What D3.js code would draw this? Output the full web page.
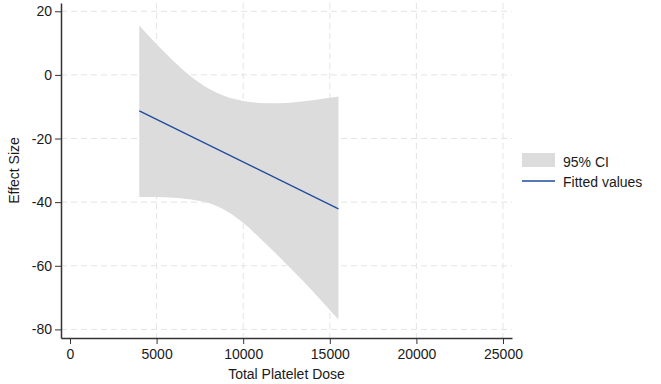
<!DOCTYPE html>
<html>
<head>
<meta charset="utf-8">
<script src="https://cdn.jsdelivr.net/npm/d3@7"></script>
<style>
  html, body { margin: 0; padding: 0; background: #fff; }
  svg { display: block; font-family: "Liberation Sans", Arial, Helvetica, sans-serif; }
</style>
</head>
<body>
<div id="chart"></div>
<script>
// --- Data ---
const doseX   = [4000, 5000, 6000, 7000, 8000, 9000, 10000, 11000, 12000, 13000, 14000, 15000, 15500];
const ciUpper = [15.5, 9.6, 4.2, -0.6, -4.3, -6.8, -8.2, -8.8, -8.9, -8.6, -8.0, -7.2, -6.8];
const ciLower = [-38.4, -38.4, -38.6, -39.2, -40.3, -42.7, -46.5, -51.5, -56.8, -62.3, -67.9, -73.9, -76.9];
const fitX = [4000, 15500];
const fitY = [-11.3, -42.1];
const xTicks = [0, 5000, 10000, 15000, 20000, 25000];
const yTicks = [20, 0, -20, -40, -60, -80];
const legendLabels = ["95% CI", "Fitted values"];

const width = 661, height = 384;
const lineColor = "#1d4a9e";
const bandColor = "#dcdcdc";
const gridColor = "#e4e4e4";
const axisColor = "#333";
const textColor = "#1a1a1a";

// --- Scales ---
const x = d3.scaleLinear().domain([-520, 25520]).range([61, 512]);
const y = d3.scaleLinear().domain([-82.7, 22.6]).range([338, 3]);

const svg = d3.select("#chart").append("svg")
  .attr("width", width)
  .attr("height", height);

// --- Gridlines (dashed) ---
svg.append("g")
  .selectAll("line")
  .data(yTicks)
  .join("line")
  .attr("x1", x.range()[0])
  .attr("x2", x.range()[1])
  .attr("y1", d => y(d))
  .attr("y2", d => y(d))
  .attr("stroke", gridColor)
  .attr("stroke-width", 1)
  .attr("stroke-dasharray", "6,4");

svg.append("g")
  .selectAll("line")
  .data(xTicks.filter(d => d !== 0))
  .join("line")
  .attr("x1", d => x(d))
  .attr("x2", d => x(d))
  .attr("y1", y.range()[1])
  .attr("y2", y.range()[0])
  .attr("stroke", gridColor)
  .attr("stroke-width", 1)
  .attr("stroke-dasharray", "6,4");

// --- Confidence band ---
const bandData = doseX.map((d, i) => ({ x: d, lo: ciLower[i], hi: ciUpper[i] }));
const area = d3.area()
  .x(d => x(d.x))
  .y0(d => y(d.lo))
  .y1(d => y(d.hi))
  .curve(d3.curveMonotoneX);

svg.append("path")
  .datum(bandData)
  .attr("d", area)
  .attr("fill", bandColor);

// --- Fitted line ---
const fitData = fitX.map((d, i) => ({ x: d, y: fitY[i] }));
svg.append("path")
  .datum(fitData)
  .attr("d", d3.line().x(d => x(d.x)).y(d => y(d.y)))
  .attr("fill", "none")
  .attr("stroke", lineColor)
  .attr("stroke-width", 1.3);

// --- Axes ---
const xAxis = svg.append("g")
  .attr("transform", `translate(0,${y.range()[0]})`)
  .call(d3.axisBottom(x).tickValues(xTicks).tickFormat(d3.format("d")).tickSize(6).tickSizeOuter(0).tickPadding(5));

const yAxis = svg.append("g")
  .attr("transform", `translate(${x.range()[0]},0)`)
  .call(d3.axisLeft(y).tickValues(yTicks).tickFormat(d => d < 0 ? "-" + Math.abs(d) : d).tickSize(6).tickSizeOuter(0).tickPadding(3));

[xAxis, yAxis].forEach(g => {
  g.select(".domain").attr("stroke", axisColor).attr("stroke-width", 1.5);
  g.selectAll(".tick line").attr("stroke", axisColor).attr("stroke-width", 1);
  g.selectAll(".tick text")
    .attr("font-size", 14)
    .attr("fill", textColor)
    .style("font-family", "'Liberation Sans', Arial, Helvetica, sans-serif");
});

// --- Axis titles ---
svg.append("text")
  .attr("x", (x.range()[0] + x.range()[1]) / 2)
  .attr("y", 379)
  .attr("text-anchor", "middle")
  .attr("font-size", 14)
  .attr("fill", textColor)
  .text("Total Platelet Dose");

svg.append("text")
  .attr("transform", `translate(19,${(y.range()[0] + y.range()[1]) / 2}) rotate(-90)`)
  .attr("text-anchor", "middle")
  .attr("font-size", 14)
  .attr("fill", textColor)
  .text("Effect Size");

// --- Legend ---
const legend = svg.append("g").attr("transform", "translate(522,153)");
legend.append("rect")
  .attr("x", 0).attr("y", 0)
  .attr("width", 33).attr("height", 14)
  .attr("fill", bandColor);
legend.append("line")
  .attr("x1", 0).attr("x2", 33)
  .attr("y1", 28).attr("y2", 28)
  .attr("stroke", lineColor)
  .attr("stroke-width", 1.3);
legend.selectAll(".legend-label")
  .data(legendLabels)
  .join("text")
  .attr("class", "legend-label")
  .attr("x", 41)
  .attr("y", (d, i) => 13.5 + i * 20.5)
  .attr("font-size", 14)
  .attr("fill", textColor)
  .text(d => d);
</script>
</body>
</html>
